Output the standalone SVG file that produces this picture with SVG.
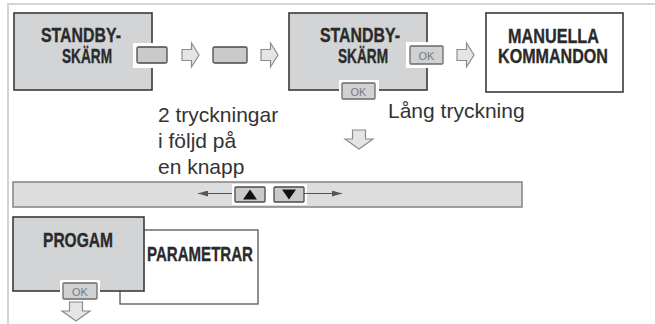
<svg xmlns="http://www.w3.org/2000/svg" width="655" height="324" viewBox="0 0 655 324">
  <style>
    .frame { fill: none; stroke: #d4d4d4; stroke-width: 2; }
    .screen { fill: #d3d4d6; stroke: #3a3a3a; stroke-width: 1.6; }
    .panel { fill: #ffffff; stroke: #3a3a3a; stroke-width: 1.6; }
    .panel-thin { fill: #ffffff; stroke: #555555; stroke-width: 1.3; }
    .pad { fill: #ffffff; stroke: none; }
    .key { fill: #c9cacc; stroke: #4a4a4a; stroke-width: 1.3; }
    .okkey { fill: #d0d1d3; stroke: #6a6a6a; stroke-width: 1.3; }
    .oktext { font-family: "Liberation Sans", Arial, sans-serif; font-size: 11px; fill: #7a7a7a; text-anchor: middle; }
    .step { fill: #e4e5e6; stroke: #8c8c8c; stroke-width: 1.2; stroke-linejoin: miter; }
    .bar { fill: #dcdddf; stroke: #8a8a8a; stroke-width: 1.6; }
    .title { font-family: "Liberation Sans Narrow", "Liberation Sans", Arial, sans-serif; font-weight: bold; font-size: 20px; fill: #2a2a2a; stroke: #2a2a2a; stroke-width: 0.35; }
    .note { font-family: "Liberation Sans", Arial, sans-serif; font-size: 21px; fill: #333333; }
    .guide { stroke: #555555; stroke-width: 1.2; fill: none; }
    .tri { fill: #111111; }
  </style>
  <defs>
    <!-- hollow step arrow pointing right, origin at left middle -->
    <path id="stepRight" d="M0,-5.5 H9.5 V-12 L17,0 L9.5,12 V5.5 H0 Z"/>
    <!-- hollow step arrow pointing down, origin at top middle -->
    <path id="stepDown" d="M-6.5,0 H6.5 V9 H14 L0,19 L-14,9 H-6.5 Z"/>
    <marker id="head" viewBox="0 0 10 6" refX="10" refY="3" markerWidth="10" markerHeight="6" markerUnits="userSpaceOnUse" orient="auto">
      <path d="M0,0 L10,3 L0,6 Z" fill="#555555"/>
    </marker>
  </defs>

  <!-- page frame -->
  <path class="frame" d="M655,4 H8 V324"/>

  <g id="standby1">
    <rect class="screen" x="14" y="13" width="138" height="77"/>
    <text class="title" x="41" y="42" textLength="80" lengthAdjust="spacingAndGlyphs">STANDBY-</text>
    <text class="title" x="62" y="63" textLength="50" lengthAdjust="spacingAndGlyphs">SKÄRM</text>
  </g>

  <g id="key1">
    <rect class="pad" x="133" y="43" width="38" height="25"/>
    <rect class="key" x="137" y="47" width="30" height="16" rx="1.5"/>
  </g>

  <g id="key2">
    <rect class="key" x="213" y="47" width="34" height="16" rx="1.5"/>
  </g>

  <g id="standby2">
    <rect class="screen" x="289" y="13" width="138" height="77"/>
    <text class="title" x="320" y="42" textLength="80" lengthAdjust="spacingAndGlyphs">STANDBY-</text>
    <text class="title" x="338" y="63" textLength="50" lengthAdjust="spacingAndGlyphs">SKÄRM</text>
  </g>

  <g id="okRight">
    <rect class="pad" x="406" y="42" width="41" height="26"/>
    <rect class="okkey" x="410" y="46" width="33" height="18" rx="1"/>
    <text class="oktext" x="426.5" y="59.5">OK</text>
  </g>

  <g id="okBottom">
    <rect class="pad" x="339" y="80" width="40" height="22"/>
    <rect class="okkey" x="342" y="83" width="33" height="16" rx="1"/>
    <text class="oktext" x="358.5" y="95.5">OK</text>
  </g>

  <g id="manual">
    <rect class="panel" x="486" y="13" width="137" height="79"/>
    <text class="title" x="508" y="43" textLength="91" lengthAdjust="spacingAndGlyphs">MANUELLA</text>
    <text class="title" x="498" y="63" textLength="110" lengthAdjust="spacingAndGlyphs">KOMMANDON</text>
  </g>

  <g id="notes">
    <text class="note" x="158" y="122">2 tryckningar</text>
    <text class="note" x="158" y="148">i följd på</text>
    <text class="note" x="158" y="174">en knapp</text>
    <text class="note" x="388" y="118">Lång tryckning</text>
  </g>

  <g id="scrollbar">
    <rect class="bar" x="13" y="182" width="509" height="25"/>
    <rect class="pad" x="232" y="184" width="75" height="21"/>
    <rect class="key" x="235" y="187" width="30" height="15" rx="1"/>
    <path class="tri" d="M243,199.5 L250,189.5 L257,199.5 Z"/>
    <rect class="key" x="274" y="187" width="30" height="15" rx="1"/>
    <path class="tri" d="M282,189.5 L296,189.5 L289,199.5 Z"/>
  </g>

  <g id="parametrar">
    <rect class="panel-thin" x="120" y="230" width="138" height="74"/>
    <text class="title" x="147" y="261" textLength="106" lengthAdjust="spacingAndGlyphs">PARAMETRAR</text>
  </g>

  <g id="program">
    <rect class="screen" x="13" y="217" width="131" height="74"/>
    <text class="title" x="43" y="247" textLength="70" lengthAdjust="spacingAndGlyphs">PROGAM</text>
    <rect class="pad" x="60" y="280" width="40" height="22"/>
    <rect class="okkey" x="63" y="283" width="34" height="16" rx="1"/>
    <text class="oktext" x="80" y="295.5">OK</text>
  </g>

  <g id="connectors">
    <use href="#stepRight" class="step" x="182" y="55"/>
    <use href="#stepRight" class="step" x="261" y="55"/>
    <use href="#stepRight" class="step" x="457" y="55"/>
    <use href="#stepDown" class="step" x="359" y="130"/>
    <use href="#stepDown" class="step" x="76" y="302"/>
    <line class="guide" x1="232" y1="193.5" x2="198" y2="193.5" marker-end="url(#head)"/>
    <line class="guide" x1="304" y1="193.5" x2="342" y2="193.5" marker-end="url(#head)"/>
  </g>
</svg>
